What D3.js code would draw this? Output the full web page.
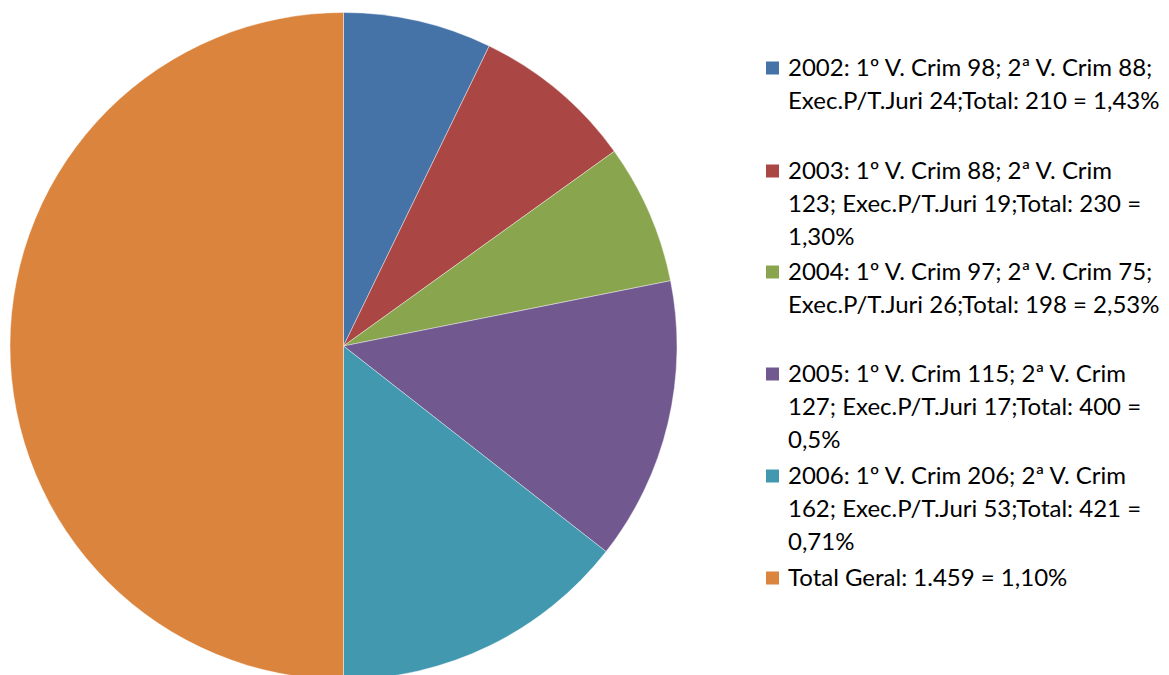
<!DOCTYPE html>
<html><head><meta charset="utf-8">
<script src="https://cdn.jsdelivr.net/npm/d3@7/dist/d3.min.js"></script>
<style>body{margin:0;background:#fff}svg{display:block}</style>
</head><body>
<svg id="c" width="1169" height="675"></svg>
<script>
const categories = ["2002","2003","2004","2005","2006","Total Geral"];
const values = [210, 230, 198, 400, 421, 1459];
const colors = ["#4572A7","#AA4643","#89A54E","#71588F","#4198AF","#DB843D"];
const legendLines = [
  ["2002: 1º V. Crim 98; 2ª V. Crim 88;", "Exec.P/T.Juri 24;Total: 210 = 1,43%"],
  ["2003: 1º V. Crim 88; 2ª V. Crim", "123; Exec.P/T.Juri 19;Total: 230 =", "1,30%"],
  ["2004: 1º V. Crim 97; 2ª V. Crim 75;", "Exec.P/T.Juri 26;Total: 198 = 2,53%"],
  ["2005: 1º V. Crim 115; 2ª V. Crim", "127; Exec.P/T.Juri 17;Total: 400 =", "0,5%"],
  ["2006: 1º V. Crim 206; 2ª V. Crim", "162; Exec.P/T.Juri 53;Total: 421 =", "0,71%"],
  ["Total Geral: 1.459 = 1,10%"]
];

const svg = d3.select("#c");
const cx = 343.5, cy = 346, r = 333.5;
const pie = d3.pie().sort(null).value(d => d)(values);
const arc = d3.arc().innerRadius(0).outerRadius(r);
svg.append("g").attr("transform", `translate(${cx},${cy})`)
  .selectAll("path").data(pie).join("path")
  .attr("d", arc)
  .attr("fill", (d,i) => colors[i])
  .attr("stroke", "rgba(255,255,255,0.5)")
  .attr("stroke-width", 0.8);

const font = "Lato, 'Open Sans', sans-serif";
// measure font size to fit width
const probe = svg.append("text").attr("font-family", font).attr("font-size", 20).text(legendLines[0][1]);
const w20 = probe.node().getComputedTextLength();
probe.remove();
const fs = Math.min(24, 20 * 376 / w20);

const entryY = [68, 171, 272, 374, 476, 578];
const lineH = 32.7;
const lg = svg.append("g");
legendLines.forEach((lines, i) => {
  lg.append("rect").attr("x", 766).attr("y", entryY[i] - 6.5).attr("width", 13).attr("height", 13)
    .attr("fill", colors[i]);
  const t = lg.append("text").attr("font-family", font).attr("font-size", fs).attr("fill", "#000");
  lines.forEach((l, j) => {
    t.append("tspan").attr("x", 788).attr("y", entryY[i] + j * lineH).attr("dy", "0.35em").text(l);
  });
});
</script>
</body></html>
